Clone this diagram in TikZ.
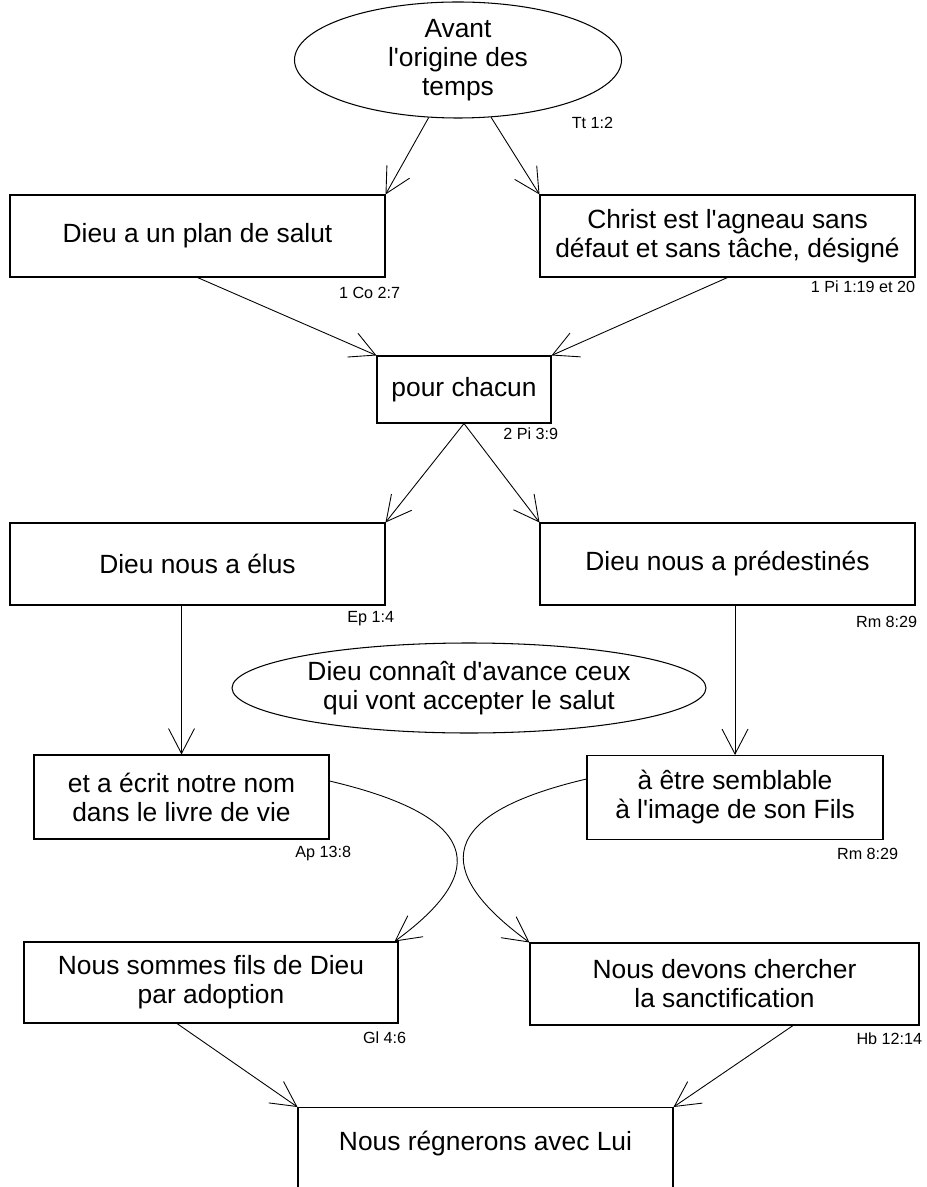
\documentclass[tikz,border=0pt]{standalone}
\usepackage{fontspec}
\setmainfont{Liberation Sans}
\usetikzlibrary{positioning,shapes.geometric,arrows.meta}

\newcommand{\boxfont}{\fontsize{15}{16.5}\selectfont}
\newcommand{\versefont}{\fontsize{9.2}{11}\selectfont}
\newcommand{\apos}{\textquotesingle}

\begin{document}
\begin{tikzpicture}[node distance=3cm,on grid,
	box/.style={draw, rectangle, line width=0.6pt, align=center,
		font=\boxfont, minimum width=7.5cm, minimum height=1.64cm},
	bubble/.style={draw, ellipse, line width=0.6pt, align=center,
		font=\boxfont, inner sep=0pt},
	verse/.style={font=\versefont, anchor=east, inner sep=0pt},
	arr/.style={line width=0.5pt, -{Straight Barb[length=5mm,width=5.2mm]}}]

\path[use as bounding box, clip] (0,0) rectangle (18.52,-23.74);

% Before time
\node[bubble,
	minimum width=6.54cm,
	minimum height=2.32cm] (origin) at (9.16,-1.2) {Avant\\l\apos origine des\\temps};
\node[verse, below right= 1.26cm and 2.69cm of origin] (v_origin) {Tt 1:2};

%%%%%%%%%%%%%%%%%%%
% Plan and lamb

\node[box, below left= 3.52cm and 5.21cm of origin] (plan) {Dieu a un plan de salut};
\node[box, right= 10.6cm of plan] (lamb) {Christ est l\apos agneau sans\\défaut et sans tâche, désigné};

\node[box,
	below right= 3.07cm and 5.33cm of plan,
	minimum width=3.48cm,
	minimum height=1.34cm] (each) {pour chacun};

\draw
    (origin.243) edge[arr] (plan.north east)
    (origin.300) edge[arr] (lamb.north west)
    (plan.south) edge[arr] (each.north west)
    (lamb.south) edge[arr] (each.north east);

%%%%%%%%%%%%%%%%%%%
% Elected and predestined

\node[box, below= 6.56cm of plan] (elect) {Dieu nous a élus};
\node[box, below= 6.56cm of lamb] (predest) {Dieu nous a prédestinés};

\node[bubble,
	below right= 5.97cm and 0.1cm of each,
	minimum width=9.48cm,
	minimum height=1.8cm] (foreknow) {Dieu connaît d\apos avance ceux\\qui vont accepter le salut};

\node[box,
	below left= 4.66cm and 0.32cm of elect,
	minimum width=5.9cm,
	minimum height=1.68cm] (written) {et a écrit notre nom\\dans le livre de vie};
\node[box,
	below right= 4.67cm and 0.15cm of predest,
	minimum width=5.92cm,
	minimum height=1.68cm] (image) {à être semblable\\à l\apos image de son Fils};

\draw
    (each.south) edge[arr] (elect.north east)
    (each.south) edge[arr] (predest.north west)
    (elect.south -| written.north) edge[arr] (written.north)
    (predest.south -| image.north) edge[arr] (image.north);

%%%%%%%%%%%%%%%%%%%
% Sons and sanctification

\node[box,
	below right= 3.71cm and 0.59cm of written,
	minimum width=7.48cm,
	minimum height=1.62cm] (adopt) {Nous sommes fils de Dieu\\par adoption};
\node[box,
	below left= 3.73cm and 0.21cm of image,
	minimum width=7.78cm] (sanct) {Nous devons chercher\\la sanctification};

\draw[arr] ([yshift=0.32cm]written.east) .. controls +(3.32,-0.78) and +(1.7,1.24) .. ([xshift=-0.08cm]adopt.north east);
\draw[arr] ([yshift=0.37cm]image.west) .. controls +(-3.32,-0.78) and +(-1.7,1.24) .. (sanct.north west);

% Reign
\node[box,
	anchor=north,
	minimum height=4cm,
	text height=0.4cm,
	text depth=2.7cm] (reign) at (9.71,-22.14) {Nous régnerons avec Lui};

\draw
    ([xshift=-0.68cm]adopt.south) edge[arr] (reign.north west)
    ([xshift=1.37cm]sanct.south) edge[arr] (reign.north east);

%%%%%%%%%%%%%%%%%%%
% Verses

\node[verse] (v_plan) at ([xshift=0.30cm, yshift=-0.30cm]plan.south east) {1 Co 2:7};
\node[verse] (v_lamb) at ([yshift=-0.18cm]lamb.south east) {1 Pi 1:19 et 20};
\node[verse] (v_each) at ([xshift=0.14cm, yshift=-0.2cm]each.south east) {2 Pi 3:9};
\node[verse] (v_elect) at ([xshift=0.18cm, yshift=-0.26cm]elect.south east) {Ep 1:4};
\node[verse] (v_predest) at ([xshift=0.04cm, yshift=-0.32cm]predest.south east) {Rm 8:29};
\node[verse] (v_written) at ([xshift=0.44cm, yshift=-0.28cm]written.south east) {Ap 13:8};
\node[verse] (v_image) at ([xshift=0.30cm, yshift=-0.28cm]image.south east) {Rm 8:29};
\node[verse] (v_adopt) at ([xshift=0.16cm, yshift=-0.28cm]adopt.south east) {Gl 4:6};
\node[verse] (v_sanct) at ([xshift=0.06cm, yshift=-0.26cm]sanct.south east) {Hb 12:14};

\end{tikzpicture}
\end{document}
